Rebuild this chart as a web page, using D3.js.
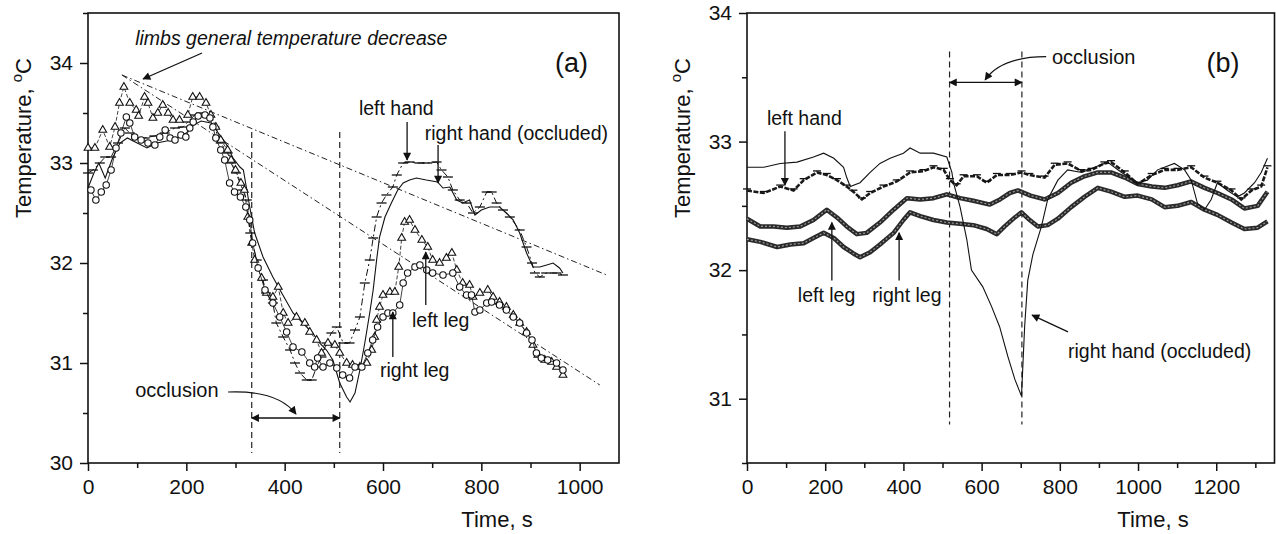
<!DOCTYPE html>
<html>
<head>
<meta charset="utf-8">
<script src="https://cdn.jsdelivr.net/npm/d3@7"></script>
<style>
  body { margin: 0; background: #fff; }
  svg { display: block; font-family: "Liberation Sans", Arial, sans-serif; }
</style>
</head>
<body>
<svg id="chart" width="1276" height="534"></svg>
<script>
// ---- panel (a) data: [time s, temperature C] ----
const leftLegA = [[0,33.15],[14,33.15],[30,33.33],[44,33.16],[55,33.36],[64,33.6],[73,33.76],[85,33.6],[98,33.53],[103,33.47],[115,33.66],[122,33.6],[132,33.45],[142,33.5],[152,33.58],[163,33.5],[173,33.43],[186,33.43],[203,33.48],[213,33.66],[227,33.66],[240,33.6],[250,33.48],[260,33.36],[270,33.23],[284,33.13],[291,33.03],[300,32.93],[311,32.8],[318,32.73],[325,32.46],[333,32.2],[339,32.03],[353,31.85],[363,31.7],[376,31.66],[387,31.76],[397,31.5],[407,31.4],[424,31.46],[441,31.4],[451,31.31],[465,31.23],[475,31.1],[488,31.2],[502,31.18],[512,31.1],[526,31.0],[538,30.98],[553,30.96],[567,31.0],[577,31.13],[583,31.26],[587,31.43],[593,31.56],[600,31.68],[614,31.71],[624,31.71],[632,31.96],[638,32.25],[644,32.41],[654,32.43],[665,32.33],[679,32.23],[691,32.16],[701,32.03],[715,32.0],[729,32.05],[740,32.1],[750,31.93],[762,31.8],[776,31.78],[783,31.66],[797,31.7],[813,31.73],[824,31.66],[837,31.61],[851,31.56],[865,31.48],[878,31.4],[892,31.31],[905,31.18],[915,31.08],[929,31.03],[943,31.01],[953,30.96],[966,30.88]];
const rightLegA = [[6,32.73],[16,32.63],[27,32.71],[37,32.78],[47,32.93],[57,33.15],[67,33.3],[78,33.46],[85,33.4],[95,33.26],[108,33.23],[122,33.2],[136,33.18],[146,33.26],[157,33.33],[167,33.25],[177,33.23],[189,33.28],[199,33.26],[207,33.35],[214,33.41],[224,33.47],[238,33.48],[248,33.45],[254,33.36],[260,33.25],[270,33.13],[278,33.03],[288,32.8],[298,32.71],[310,32.66],[321,32.56],[329,32.43],[335,32.2],[346,31.95],[360,31.73],[376,31.6],[390,31.46],[404,31.31],[417,31.16],[435,31.11],[451,31.0],[461,30.96],[467,31.05],[478,30.96],[492,31.0],[506,30.95],[518,30.88],[532,30.85],[543,30.96],[557,30.96],[569,31.1],[579,31.23],[589,31.36],[600,31.46],[610,31.5],[620,31.5],[634,31.58],[641,31.8],[650,31.9],[665,31.96],[675,31.98],[689,31.93],[701,31.9],[722,31.88],[742,31.9],[756,31.76],[770,31.68],[780,31.68],[787,31.51],[797,31.53],[811,31.6],[821,31.61],[837,31.58],[851,31.53],[865,31.46],[878,31.4],[892,31.3],[903,31.23],[912,31.1],[922,31.05],[935,31.03],[953,31.0],[966,30.93]];
const leftHandA = [[0,32.9],[10,32.93],[24,33.0],[35,33.06],[47,33.06],[61,33.2],[75,33.35],[85,33.3],[98,33.25],[115,33.25],[135,33.27],[156,33.3],[177,33.35],[193,33.36],[203,33.41],[217,33.48],[230,33.5],[244,33.48],[257,33.36],[270,33.2],[284,33.1],[291,33.0],[301,32.9],[315,32.73],[323,32.63],[330,32.3],[343,32.03],[356,31.83],[362,31.7],[376,31.6],[383,31.4],[397,31.26],[411,31.13],[421,31.0],[431,30.9],[445,30.83],[455,30.83],[465,30.96],[475,31.06],[485,31.2],[495,31.3],[506,31.36],[519,31.2],[532,31.2],[543,31.33],[553,31.46],[563,31.8],[573,32.03],[580,32.25],[587,32.46],[597,32.6],[607,32.68],[620,32.76],[628,32.88],[641,33.0],[654,33.01],[674,33.0],[690,33.0],[709,33.01],[719,32.93],[732,32.86],[742,32.73],[756,32.63],[770,32.6],[783,32.5],[797,32.56],[811,32.71],[821,32.71],[831,32.6],[844,32.53],[858,32.46],[878,32.33],[892,32.16],[903,32.0],[909,31.9],[919,31.86],[932,31.9],[953,31.9],[966,31.88]];
const rightHandA = [[0,32.75],[12,32.9],[22,33.0],[35,32.85],[50,33.05],[65,33.2],[80,33.25],[100,33.2],[120,33.15],[140,33.2],[160,33.22],[180,33.25],[200,33.3],[215,33.38],[230,33.42],[250,33.4],[265,33.3],[280,33.2],[295,33.05],[309,32.96],[316,32.93],[329,32.56],[339,32.3],[356,32.06],[376,31.86],[394,31.7],[417,31.5],[437,31.4],[457,31.3],[471,31.2],[485,31.13],[498,31.03],[512,30.8],[526,30.66],[533,30.61],[543,30.7],[553,30.93],[563,31.2],[573,31.5],[580,31.73],[587,32.03],[593,32.26],[604,32.46],[617,32.6],[630,32.73],[641,32.8],[654,32.83],[668,32.85],[688,32.83],[711,32.81],[722,32.75],[736,32.76],[750,32.63],[762,32.6],[776,32.63],[787,32.48],[800,32.53],[817,32.56],[837,32.56],[851,32.5],[865,32.43],[878,32.3],[892,32.1],[905,31.96],[919,31.96],[933,31.98],[946,32.0],[959,31.95],[966,31.9]];
const trendA = [
  [[69,33.88],[1055,31.88]],
  [[69,33.88],[1041,30.78]]
];
const occlusionA = [333, 512];

// ---- panel (b) data ----
const rightHandB = [[0,32.8],[43,32.8],[85,32.83],[128,32.84],[170,32.88],[196,32.91],[222,32.87],[247,32.8],[255,32.72],[264,32.65],[289,32.68],[315,32.76],[340,32.83],[366,32.87],[400,32.91],[417,32.95],[443,32.91],[477,32.91],[511,32.88],[524,32.76],[528,32.68],[545,32.49],[562,32.24],[574,32.0],[603,31.87],[625,31.72],[646,31.56],[667,31.33],[685,31.15],[702,31.02],[710,31.56],[718,31.92],[731,32.12],[753,32.34],[769,32.55],[795,32.7],[820,32.78],[856,32.76],[889,32.8],[922,32.84],[958,32.76],[999,32.68],[1024,32.7],[1050,32.78],[1093,32.83],[1119,32.78],[1136,32.7],[1152,32.52],[1170,32.47],[1187,32.55],[1203,32.68],[1229,32.62],[1254,32.57],[1272,32.6],[1298,32.68],[1315,32.76],[1331,32.87]];
const leftHandB = [[0,32.62],[43,32.6],[85,32.65],[119,32.62],[145,32.7],[179,32.76],[204,32.74],[230,32.7],[255,32.65],[272,32.61],[294,32.55],[315,32.6],[349,32.65],[383,32.69],[417,32.76],[451,32.77],[477,32.8],[503,32.78],[519,32.7],[536,32.66],[554,32.73],[588,32.73],[613,32.68],[639,32.74],[672,32.74],[702,32.76],[722,32.74],[761,32.72],[787,32.82],[820,32.83],[856,32.77],[881,32.78],[914,32.83],[931,32.84],[966,32.76],[999,32.67],[1035,32.74],[1068,32.78],[1101,32.78],[1136,32.8],[1170,32.72],[1203,32.68],[1239,32.62],[1264,32.55],[1290,32.62],[1315,32.65],[1331,32.8]];
const leftLegB = [[0,32.4],[34,32.34],[68,32.34],[102,32.33],[136,32.34],[170,32.39],[204,32.47],[230,32.41],[255,32.34],[281,32.28],[306,32.29],[340,32.37],[375,32.47],[409,32.56],[443,32.55],[477,32.56],[511,32.59],[545,32.56],[579,32.54],[621,32.51],[647,32.55],[672,32.6],[693,32.62],[725,32.58],[761,32.55],[795,32.6],[829,32.68],[863,32.73],[897,32.76],[931,32.76],[966,32.72],[999,32.67],[1035,32.65],[1068,32.64],[1101,32.66],[1136,32.69],[1170,32.64],[1203,32.6],[1239,32.55],[1272,32.48],[1306,32.5],[1331,32.61]];
const rightLegB = [[0,32.24],[34,32.22],[77,32.18],[111,32.2],[145,32.21],[170,32.25],[196,32.29],[222,32.25],[247,32.18],[272,32.13],[289,32.1],[315,32.14],[340,32.2],[375,32.29],[400,32.39],[417,32.45],[443,32.42],[477,32.39],[511,32.37],[545,32.36],[579,32.35],[613,32.32],[639,32.28],[659,32.34],[685,32.41],[702,32.45],[719,32.4],[744,32.34],[769,32.35],[795,32.4],[829,32.49],[863,32.57],[897,32.64],[931,32.61],[966,32.57],[999,32.58],[1035,32.55],[1068,32.49],[1101,32.5],[1136,32.53],[1170,32.47],[1203,32.43],[1239,32.37],[1272,32.32],[1306,32.33],[1331,32.38]];
const occlusionB = [518, 703];

// ---- axes ----
const xTicksA = [0, 200, 400, 600, 800, 1000];
const xMinorA = [100, 300, 500, 700, 900];
const yTicksA = [30, 31, 32, 33, 34];
const yMinorA = [30.5, 31.5, 32.5, 33.5, 34.5];
const xTicksB = [0, 200, 400, 600, 800, 1000, 1200];
const xMinorB = [100, 300, 500, 700, 900, 1100, 1300];
const yTicksB = [31, 32, 33, 34];
const yMinorB = [30.5, 31.5, 32.5, 33.5];

const svg = d3.select("#chart");

const defs = svg.append("defs");
defs.append("marker")
  .attr("id", "arr")
  .attr("viewBox", "0 0 10 10")
  .attr("refX", 9).attr("refY", 5)
  .attr("markerWidth", 11).attr("markerHeight", 8)
  .attr("markerUnits", "userSpaceOnUse")
  .attr("orient", "auto-start-reverse")
  .append("path")
  .attr("d", "M0,0 L10,5 L0,10 Z")
  .attr("fill", "#111");

const fmt = d3.format("d");

function panel(box, xDom, yDom, xt, xm, yt, ym) {
  const x = d3.scaleLinear().domain(xDom).range([box.left, box.right]);
  const y = d3.scaleLinear().domain(yDom).range([box.bottom, box.top]);
  const g = svg.append("g");

  const ax = g.append("g").attr("transform", `translate(0,${box.bottom})`)
    .call(d3.axisBottom(x).tickValues(xt).tickFormat(fmt).tickSize(8).tickPadding(8).tickSizeOuter(0));
  const axm = g.append("g").attr("transform", `translate(0,${box.bottom})`)
    .call(d3.axisBottom(x).tickValues(xm).tickSize(5).tickFormat("").tickSizeOuter(0));
  const ay = g.append("g").attr("transform", `translate(${box.left},0)`)
    .call(d3.axisLeft(y).tickValues(yt).tickFormat(fmt).tickSize(8).tickPadding(7).tickSizeOuter(0));
  const aym = g.append("g").attr("transform", `translate(${box.left},0)`)
    .call(d3.axisLeft(y).tickValues(ym).tickSize(5).tickFormat("").tickSizeOuter(0));
  [ax, axm, ay, aym].forEach(a => {
    a.select(".domain").remove();
    a.selectAll("line").attr("stroke", "#111").attr("stroke-width", 1.5);
    a.selectAll("text").attr("font-size", 21).attr("fill", "#111")
      .attr("font-family", "Liberation Sans, Arial, sans-serif");
  });

  g.append("rect")
    .attr("x", box.left).attr("y", box.top)
    .attr("width", box.right - box.left).attr("height", box.bottom - box.top)
    .attr("fill", "none").attr("stroke", "#111").attr("stroke-width", 1.6);

  // axis titles
  const yt0 = g.append("text")
    .attr("transform", `translate(${box.left - 57},${box.titleY}) rotate(-90)`)
    .attr("text-anchor", "middle").attr("font-size", 22).attr("fill", "#111");
  yt0.append("tspan").text("Temperature, ");
  yt0.append("tspan").attr("dy", -9).attr("font-size", 15).text("o");
  yt0.append("tspan").attr("dy", 9).text("C");

  g.append("text")
    .attr("x", box.xTitle).attr("y", 527)
    .attr("text-anchor", "middle").attr("font-size", 22).attr("fill", "#111")
    .text("Time, s");

  return { x, y, g };
}

function line(x, y) {
  return d3.line().x(d => x(d[0])).y(d => y(d[1]));
}

function arrow(g, pts, both) {
  g.append("line")
    .attr("x1", pts[0][0]).attr("y1", pts[0][1])
    .attr("x2", pts[1][0]).attr("y2", pts[1][1])
    .attr("stroke", "#111").attr("stroke-width", 1.3)
    .attr("marker-end", "url(#arr)")
    .attr("marker-start", both ? "url(#arr)" : null);
}

function label(g, px, py, txt, size, italic) {
  g.append("text")
    .attr("x", px).attr("y", py)
    .attr("font-size", size || 19.5)
    .attr("font-style", italic ? "italic" : null)
    .attr("fill", "#111")
    .text(txt);
}

// ================= panel (a) =================
const A = panel({ left: 88, right: 619, top: 13, bottom: 463, titleY: 138, xTitle: 497 },
  [0, 1080], [30, 34.5], xTicksA, xMinorA, yTicksA, yMinorA);

// trend lines
trendA.forEach(t => {
  A.g.append("path").attr("d", line(A.x, A.y)(t))
    .attr("fill", "none").attr("stroke", "#222").attr("stroke-width", 1)
    .attr("stroke-dasharray", "6,3,1.5,3");
});

// occlusion lines
occlusionA.forEach(t => {
  A.g.append("line")
    .attr("x1", A.x(t)).attr("x2", A.x(t))
    .attr("y1", A.y(33.31)).attr("y2", A.y(30.1))
    .attr("stroke", "#222").attr("stroke-width", 1.2).attr("stroke-dasharray", "6,4");
});

// right hand: thin solid
A.g.append("path").attr("d", line(A.x, A.y)(rightHandA))
  .attr("fill", "none").attr("stroke", "#111").attr("stroke-width", 1.1);

// left hand: dash-dot with dash markers
A.g.append("path").attr("d", line(A.x, A.y)(leftHandA))
  .attr("fill", "none").attr("stroke", "#111").attr("stroke-width", 1)
  .attr("stroke-dasharray", "7,3,2,3");
A.g.selectAll(".lhA").data(leftHandA).enter().append("line")
  .attr("x1", d => A.x(d[0]) - 5).attr("x2", d => A.x(d[0]) + 5)
  .attr("y1", d => A.y(d[1])).attr("y2", d => A.y(d[1]))
  .attr("stroke", "#111").attr("stroke-width", 1.3);

// left leg: triangles
A.g.append("path").attr("d", line(A.x, A.y)(leftLegA))
  .attr("fill", "none").attr("stroke", "#111").attr("stroke-width", 0.8)
  .attr("stroke-dasharray", "4,2");
const tri = d3.symbol().type(d3.symbolTriangle).size(26);
A.g.selectAll(".triA").data(leftLegA).enter().append("path")
  .attr("d", tri)
  .attr("transform", d => `translate(${A.x(d[0])},${A.y(d[1])})`)
  .attr("fill", "#fff").attr("stroke", "#111").attr("stroke-width", 1.1);

// right leg: circles
A.g.append("path").attr("d", line(A.x, A.y)(rightLegA))
  .attr("fill", "none").attr("stroke", "#111").attr("stroke-width", 0.8);
A.g.selectAll(".cirA").data(rightLegA).enter().append("circle")
  .attr("cx", d => A.x(d[0])).attr("cy", d => A.y(d[1])).attr("r", 3.2)
  .attr("fill", "#fff").attr("stroke", "#111").attr("stroke-width", 1.1);

// annotations (a)
label(A.g, A.x(96), A.y(34.18), "limbs general temperature decrease", 19.5, true);
arrow(A.g, [[A.x(232), A.y(34.10)], [A.x(112), A.y(33.84)]]);
label(A.g, A.x(950), A.y(33.91), "(a)", 27);
label(A.g, A.x(551), A.y(33.48), "left hand");
arrow(A.g, [[A.x(649), A.y(33.41)], [A.x(649), A.y(33.03)]]);
label(A.g, A.x(685), A.y(33.23), "right hand (occluded)");
arrow(A.g, [[A.x(712), A.y(33.18)], [A.x(712), A.y(32.8)]]);
label(A.g, A.x(659), A.y(31.36), "left leg");
arrow(A.g, [[A.x(687), A.y(31.58)], [A.x(687), A.y(32.11)]]);
label(A.g, A.x(594), A.y(30.86), "right leg");
arrow(A.g, [[A.x(620), A.y(31.06)], [A.x(620), A.y(31.51)]]);
label(A.g, A.x(96), A.y(30.66), "occlusion", 20);
A.g.append("path")
  .attr("d", `M${A.x(285)},${A.y(30.71)} Q${A.x(385)},${A.y(30.73)} ${A.x(423)},${A.y(30.49)}`)
  .attr("fill", "none").attr("stroke", "#111").attr("stroke-width", 1.2)
  .attr("marker-end", "url(#arr)");
arrow(A.g, [[A.x(occlusionA[0]), A.y(30.45)], [A.x(occlusionA[1]), A.y(30.45)]], true);

// ================= panel (b) =================
const B = panel({ left: 747, right: 1274.5, top: 13, bottom: 463, titleY: 138, xTitle: 1153 },
  [0, 1349], [30.5, 34], xTicksB, xMinorB, yTicksB, yMinorB);

occlusionB.forEach(t => {
  B.g.append("line")
    .attr("x1", B.x(t)).attr("x2", B.x(t))
    .attr("y1", B.y(33.7)).attr("y2", B.y(30.8))
    .attr("stroke", "#222").attr("stroke-width", 1.2).attr("stroke-dasharray", "6,4");
});

// legs: dense circle bands
[leftLegB, rightLegB].forEach(s => {
  B.g.append("path").attr("d", line(B.x, B.y)(s))
    .attr("fill", "none").attr("stroke", "#2a2a2a").attr("stroke-width", 4.5)
    .attr("stroke-linejoin", "round");
  B.g.append("path").attr("d", line(B.x, B.y)(s))
    .attr("fill", "none").attr("stroke", "#9a9a9a").attr("stroke-width", 1.2)
    .attr("stroke-dasharray", "2,2");
});

// left hand: dashed band with dash markers
B.g.append("path").attr("d", line(B.x, B.y)(leftHandB))
  .attr("fill", "none").attr("stroke", "#1a1a1a").attr("stroke-width", 2.6)
  .attr("stroke-dasharray", "5,1.5");
B.g.selectAll(".lhB").data(leftHandB).enter().append("line")
  .attr("x1", d => B.x(d[0]) - 4).attr("x2", d => B.x(d[0]) + 4)
  .attr("y1", d => B.y(d[1]) - 1.5).attr("y2", d => B.y(d[1]) - 1.5)
  .attr("stroke", "#111").attr("stroke-width", 1.3);

// right hand: thin solid
B.g.append("path").attr("d", line(B.x, B.y)(rightHandB))
  .attr("fill", "none").attr("stroke", "#111").attr("stroke-width", 1.1);

// annotations (b)
label(B.g, B.x(51), B.y(33.13), "left hand");
arrow(B.g, [[B.x(97), B.y(33.08)], [B.x(97), B.y(32.66)]]);
label(B.g, B.x(130), B.y(31.75), "left leg");
arrow(B.g, [[B.x(217), B.y(31.92)], [B.x(217), B.y(32.37)]]);
label(B.g, B.x(320), B.y(31.75), "right leg");
arrow(B.g, [[B.x(389), B.y(31.92)], [B.x(389), B.y(32.29)]]);
label(B.g, B.x(780), B.y(33.6), "occlusion", 20);
B.g.append("path")
  .attr("d", `M${B.x(765)},${B.y(33.66)} Q${B.x(650)},${B.y(33.66)} ${B.x(609)},${B.y(33.48)}`)
  .attr("fill", "none").attr("stroke", "#111").attr("stroke-width", 1.2)
  .attr("marker-end", "url(#arr)");
arrow(B.g, [[B.x(occlusionB[0]), B.y(33.46)], [B.x(occlusionB[1]), B.y(33.46)]], true);
label(B.g, B.x(1175), B.y(33.54), "(b)", 27);
label(B.g, B.x(821), B.y(31.32), "right hand (occluded)");
arrow(B.g, [[B.x(821), B.y(31.52)], [B.x(729), B.y(31.65)]]);
</script>
</body>
</html>
